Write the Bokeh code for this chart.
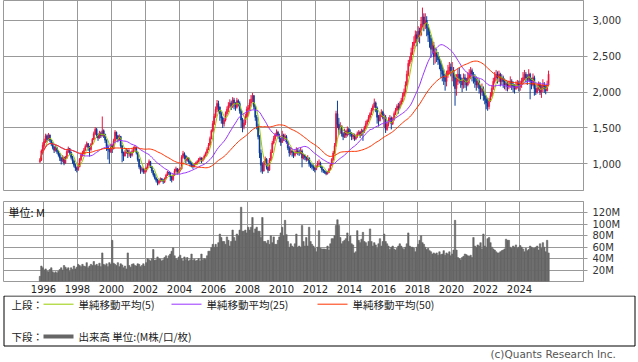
import numpy as np
import pandas as pd
from bokeh.plotting import figure
from bokeh.layouts import column
from bokeh.models import (ColumnDataSource, FixedTicker, Range1d, NumeralTickFormatter, Label)
from bokeh.core.properties import value
from bokeh.embed import file_html
from bokeh.resources import INLINE

# ---------------- data (monthly, Oct 1995 - Sep 2025) ----------------
first_year = 1995
first_month = 10
first_open = 1030

close = [
    1050, 1180, 1260,
    1310, 1390, 1340, 1400, 1330, 1280, 1230, 1190, 1220, 1170, 1130, 1080,
    1040, 1090, 1010, 1080, 1170, 1210, 1160, 1090, 1040, 980, 940, 920,
    960, 1060, 1120, 1140, 1190, 1240, 1280, 1230, 1200, 1270, 1340, 1420,
    1480, 1400, 1360, 1430, 1390, 1460, 1410, 1330, 1240, 1200, 1170, 1250,
    1210, 1320, 1440, 1390, 1340, 1380, 1250, 1150, 1110, 1160, 1190, 1140,
    1150, 1120, 1170, 1210, 1230, 1160, 1060, 960, 910, 930, 890, 900,
    940, 990, 1030, 960, 900, 850, 800, 770, 730, 760, 790, 770,
    750, 790, 840, 880, 870, 820, 780, 840, 900, 930, 880, 910,
    930, 1090, 1140, 1110, 1050, 1080, 1030, 1000, 980, 960, 990, 1010,
    1030, 1060, 1080, 1050, 1070, 1110, 1150, 1200, 1260, 1350, 1460, 1560,
    1660, 1760, 1840, 1790, 1700, 1640, 1560, 1610, 1700, 1760, 1810, 1850,
    1800, 1890, 1840, 1790, 1880, 1840, 1740, 1610, 1520, 1570, 1660, 1760,
    1780, 1850, 1900, 1950, 1800, 1650, 1520, 1380, 1150, 980, 900, 1000,
    1060, 950, 910, 1050, 1160, 1290, 1350, 1400, 1440, 1400, 1350, 1300,
    1400, 1350, 1380, 1300, 1220, 1150, 1180, 1160, 1120, 1150, 1180, 1160,
    1150, 1180, 1080, 1120, 1090, 1060, 1080, 1000, 980, 960, 940, 920,
    960, 1000, 1010, 960, 920, 900, 880, 860, 880, 920, 980, 1060,
    1150, 1250, 1700, 1550, 1480, 1520, 1420, 1380, 1450, 1400, 1480, 1440,
    1420, 1380, 1400, 1350, 1380, 1420, 1440, 1400, 1460, 1450, 1500, 1560,
    1600, 1650, 1700, 1750, 1800, 1850, 1780, 1650, 1600, 1680, 1720, 1650,
    1650, 1480, 1550, 1600, 1640, 1560, 1620, 1700, 1750, 1800, 1780, 1830,
    1880, 1950, 2000, 2100, 2250, 2400, 2450, 2550, 2650, 2700, 2800, 2750,
    2850, 2800, 2950, 3050, 2950, 3000, 2900, 2800, 2750, 2600, 2650, 2500,
    2550, 2500, 2450, 2400, 2300, 2250, 2200, 2150, 2250, 2300, 2350, 2300,
    2300, 2200, 2050, 2150, 2250, 2200, 2150, 2100, 2200, 2150, 2100, 2200,
    2250, 2300, 2250, 2200, 2150, 2100, 2150, 2050, 2000, 2050, 1950, 1900,
    1850, 1800, 1880, 1950, 2050, 2150, 2200, 2250, 2200, 2250, 2150, 2200,
    2150, 2100, 2120, 2080, 2100, 2150, 2100, 2080, 2050, 2100, 2120, 2080,
    2100, 2150, 2200, 2250, 2200, 2180, 2250, 2150, 2100, 2200, 2050, 2000,
    2050, 2100, 2000, 2050, 2100, 2050, 2020, 2100, 2250,
]

high = [
    1080, 1200, 1300,
    1350, 1420, 1410, 1430, 1410, 1340, 1300, 1250, 1260, 1240, 1190, 1150,
    1100, 1120, 1100, 1110, 1190, 1240, 1220, 1170, 1110, 1060, 1000, 960,
    1000, 1080, 1150, 1180, 1220, 1270, 1310, 1290, 1250, 1290, 1360, 1450,
    1510, 1500, 1420, 1460, 1450, 1660, 1480, 1420, 1340, 1270, 1220, 1280,
    1270, 1350, 1470, 1450, 1400, 1410, 1390, 1260, 1170, 1190, 1220, 1200,
    1200, 1170, 1200, 1240, 1260, 1240, 1170, 1070, 980, 960, 940, 930,
    960, 1010, 1060, 1040, 970, 910, 870, 820, 790, 780, 810, 800,
    790, 810, 860, 900, 890, 880, 830, 860, 930, 960, 940, 930,
    950, 1120, 1180, 1160, 1120, 1100, 1090, 1040, 1020, 1000, 1010, 1030,
    1050, 1080, 1100, 1090, 1090, 1130, 1170, 1230, 1290, 1380, 1480, 1600,
    1700, 1800, 1890, 1880, 1800, 1730, 1660, 1640, 1730, 1800, 1860, 1900,
    1880, 1930, 1920, 1860, 1920, 1900, 1870, 1760, 1640, 1620, 1700, 1800,
    1820, 1900, 1960, 1990, 1960, 1820, 1680, 1560, 1400, 1200, 1020, 1040,
    1100, 1080, 990, 1080, 1200, 1320, 1390, 1430, 1480, 1460, 1420, 1360,
    1460, 1420, 1420, 1400, 1320, 1240, 1230, 1200, 1180, 1190, 1230, 1220,
    1200, 1230, 1200, 1140, 1130, 1100, 1120, 1090, 1020, 1000, 990, 960,
    980, 1040, 1060, 1030, 970, 930, 910, 900, 900, 940, 1000, 1080,
    1180, 1290, 1740, 1880, 1640, 1580, 1540, 1440, 1490, 1470, 1520, 1500,
    1480, 1440, 1430, 1420, 1410, 1450, 1470, 1460, 1490, 1480, 1530, 1600,
    1620, 1680, 1720, 1780, 1830, 1910, 1870, 1800, 1680, 1710, 1760, 1740,
    1700, 1680, 1580, 1650, 1680, 1660, 1650, 1730, 1780, 1830, 1850, 1870,
    1920, 1990, 2050, 2150, 2300, 2450, 2500, 2620, 2700, 2780, 2860, 2850,
    2920, 2900, 3050, 3180, 3100, 3100, 3060, 2950, 2880, 2800, 2720, 2700,
    2620, 2600, 2560, 2500, 2440, 2380, 2320, 2260, 2300, 2380, 2420, 2400,
    2420, 2350, 2250, 2250, 2330, 2340, 2250, 2200, 2260, 2250, 2200, 2280,
    2320, 2350, 2330, 2280, 2250, 2220, 2200, 2180, 2100, 2120, 2080, 2000,
    1950, 1920, 1920, 2000, 2100, 2200, 2280, 2310, 2290, 2300, 2270, 2250,
    2230, 2190, 2170, 2150, 2160, 2220, 2180, 2150, 2110, 2150, 2170, 2160,
    2160, 2200, 2280, 2310, 2280, 2250, 2320, 2270, 2200, 2260, 2230, 2100,
    2110, 2150, 2140, 2100, 2180, 2140, 2100, 2160, 2300,
]

low = [
    1010, 1040, 1150,
    1230, 1290, 1300, 1320, 1300, 1250, 1200, 1150, 1170, 1140, 1100, 1040,
    990, 1020, 980, 1000, 1070, 1150, 1120, 1060, 1000, 950, 900, 880,
    900, 950, 1040, 1100, 1130, 1180, 1230, 1180, 1100, 1180, 1260, 1330,
    1400, 1360, 1320, 1350, 1360, 1380, 1360, 1290, 1180, 1060, 1000, 1150,
    1150, 1200, 1300, 1340, 1300, 1320, 1220, 1020, 1040, 1100, 1140, 1080,
    1100, 1080, 1100, 1150, 1180, 1130, 1030, 930, 860, 880, 860, 860,
    880, 920, 970, 940, 870, 820, 780, 740, 700, 710, 740, 750,
    720, 730, 780, 830, 840, 760, 740, 760, 830, 880, 850, 860,
    890, 920, 1070, 1060, 1010, 1030, 1000, 960, 950, 930, 950, 980,
    990, 1020, 1040, 1010, 1030, 1060, 1100, 1140, 1190, 1250, 1340, 1440,
    1540, 1640, 1720, 1720, 1600, 1560, 1500, 1520, 1590, 1670, 1720, 1780,
    1750, 1780, 1760, 1740, 1770, 1800, 1700, 1500, 1440, 1480, 1540, 1640,
    1680, 1740, 1800, 1860, 1760, 1600, 1480, 1340, 1080, 880, 860, 890,
    980, 920, 870, 900, 1040, 1150, 1270, 1320, 1380, 1370, 1300, 1250,
    1290, 1320, 1330, 1280, 1190, 1100, 1120, 1100, 1080, 1100, 1140, 1120,
    1110, 1130, 950, 1060, 1050, 1030, 1040, 960, 940, 920, 900, 880,
    910, 950, 980, 940, 880, 870, 860, 840, 850, 870, 910, 970,
    1040, 1130, 1240, 1500, 1400, 1420, 1380, 1330, 1360, 1360, 1380, 1400,
    1380, 1330, 1340, 1320, 1330, 1360, 1400, 1360, 1390, 1320, 1430, 1480,
    1530, 1580, 1620, 1680, 1730, 1780, 1720, 1560, 1520, 1590, 1650, 1620,
    1500, 1430, 1460, 1520, 1580, 1480, 1540, 1600, 1680, 1730, 1700, 1760,
    1820, 1860, 1930, 1980, 2080, 2220, 2360, 2420, 2520, 2600, 2680, 2640,
    2700, 2680, 2780, 2900, 2850, 2880, 2780, 2700, 2620, 2480, 2540, 2380,
    2400, 2420, 2380, 2320, 2200, 2150, 2100, 2020, 2080, 2200, 2250, 2220,
    2150, 2080, 1810, 1950, 2100, 2120, 2060, 2000, 2050, 2060, 2020, 2080,
    2120, 2180, 2150, 2120, 2060, 2020, 2060, 1980, 1900, 1950, 1880, 1830,
    1760, 1740, 1760, 1860, 1930, 2030, 2120, 2160, 2120, 2140, 2080, 2100,
    2060, 2040, 2020, 2010, 2040, 2060, 2030, 2000, 1980, 2030, 2050, 2010,
    2020, 2060, 2120, 2170, 2140, 2100, 2150, 1900, 2040, 2080, 1950, 1960,
    1980, 2020, 1960, 1920, 2000, 1990, 1970, 2010, 2080,
]

volume = [
    9, 27, 24,
    20, 22, 18, 17, 21, 24, 17, 15, 17, 15, 18, 21,
    24, 20, 28, 25, 22, 24, 18, 24, 21, 27, 22, 25,
    30, 28, 26, 30, 27, 26, 33, 24, 27, 30, 28, 35,
    28, 30, 27, 32, 26, 50, 30, 28, 31, 26, 33, 30,
    72, 32, 30, 28, 33, 26, 31, 29, 24, 27, 22, 50,
    28, 25, 30, 31, 28, 27, 31, 30, 26, 28, 31, 27,
    33, 40, 38, 36, 40, 56, 37, 38, 43, 40, 39, 36,
    38, 42, 45, 40, 45, 48, 53, 59, 45, 40, 38, 43,
    46, 40, 36, 43, 38, 42, 36, 38, 48, 37, 39, 36,
    37, 40, 36, 48, 38, 40, 39, 45, 53, 53, 59, 65,
    60, 65, 60, 68, 83, 77, 70, 70, 65, 78, 72, 62,
    70, 90, 77, 71, 83, 80, 90, 130, 88, 88, 90, 85,
    95, 90, 95, 112, 85, 92, 95, 88, 88, 77, 112, 70,
    70, 67, 72, 65, 80, 68, 78, 65, 65, 72, 78, 85,
    95, 80, 107, 82, 70, 60, 66, 62, 60, 66, 83, 60,
    62, 60, 98, 70, 62, 77, 62, 95, 70, 65, 62, 58,
    52, 60, 89, 58, 57, 57, 57, 56, 62, 55, 66, 75,
    75, 80, 98, 108, 98, 77, 66, 70, 72, 75, 85, 70,
    80, 66, 64, 50, 52, 89, 72, 68, 74, 86, 70, 68,
    62, 70, 92, 70, 62, 68, 64, 58, 66, 75, 62, 70,
    83, 70, 66, 62, 56, 60, 62, 57, 55, 58, 62, 66,
    62, 58, 56, 60, 66, 85, 62, 60, 60, 58, 52, 60,
    65, 72, 80, 68, 65, 60, 56, 58, 54, 52, 48, 50,
    48, 50, 46, 52, 47, 48, 54, 46, 50, 48, 52, 45,
    48, 55, 107, 55, 42, 40, 38, 42, 44, 48, 47, 45,
    44, 46, 42, 77, 62, 60, 64, 62, 68, 57, 83, 62,
    60, 75, 77, 68, 60, 57, 55, 52, 50, 50, 52, 54,
    55, 57, 74, 72, 72, 60, 58, 62, 60, 64, 58, 60,
    63, 60, 57, 52, 58, 54, 56, 62, 60, 58, 58, 60,
    62, 55, 66, 58, 68, 60, 52, 72, 50,
]

ma_windows = [5, 25, 50]
ma_labels = ["単純移動平均(5)", "単純移動平均(25)", "単純移動平均(50)"]
ma_colors = ["#99cc00", "#9933ff", "#ff3300"]

x_tick_years = [1996, 1998, 2000, 2002, 2004, 2006, 2008, 2010, 2012, 2014, 2016, 2018, 2020, 2022, 2024]
price_ticks = [1000, 1500, 2000, 2500, 3000]
volume_ticks = [20, 40, 60, 80, 100, 120]

# ---------------- derived ----------------
n = min(len(close), len(high), len(low), len(volume))
c = np.array(close[:n], dtype=float)
o = np.concatenate([[first_open], c[:-1]])
h = np.maximum(np.array(high[:n], dtype=float), np.maximum(o, c))
l = np.minimum(np.array(low[:n], dtype=float), np.minimum(o, c))
v = np.array(volume[:n], dtype=float)
x = first_year + (first_month - 1 + np.arange(n) + 0.5) / 12.0

UP = "#f0143c"
DOWN = "#0a3a9a"
colors = [UP if cc >= oo else DOWN for cc, oo in zip(c, o)]

src = ColumnDataSource(dict(x=x, o=o, c=c, h=h, l=l,
                            top=np.maximum(o, c), bottom=np.minimum(o, c),
                            color=colors, v=v))

X0, X1 = 1993.647, 2027.765
GRID = "#999999"
LABEL_FONT = "DejaVu Sans"
JP_FONT = "Noto Sans CJK JP"
W = 638
B_LEFT, B_RIGHT = 3, 55

# ---------------- price panel ----------------
p = figure(width=W, height=191, x_range=Range1d(X0, X1), y_range=Range1d(627, 3279),
           x_axis_location=None, y_axis_location="right",
           output_backend="svg", toolbar_location=None,
           min_border_left=B_LEFT, min_border_right=B_RIGHT, min_border_top=0, min_border_bottom=1)
p.outline_line_color = GRID
p.background_fill_color = "white"
p.xgrid.ticker = FixedTicker(ticks=x_tick_years)
for g in (p.xgrid, p.ygrid):
    g.grid_line_color = GRID
    g.grid_line_alpha = 1.0
ax = p.yaxis[0]
ax.ticker = FixedTicker(ticks=price_ticks)
ax.formatter = NumeralTickFormatter(format="0,0")
ax.major_tick_out = 4
ax.major_tick_in = 0
ax.minor_tick_line_color = None
ax.axis_line_color = GRID
ax.major_tick_line_color = GRID
ax.major_label_standoff = 5
ax.major_label_text_font = LABEL_FONT
ax.major_label_text_font_size = "10px"
ax.major_label_text_color = "#333333"

p.segment(x0="x", y0="l", x1="x", y1="h", line_color="color", line_width=1, source=src)
p.vbar(x="x", width=0.8 / 12, top="top", bottom="bottom", fill_color="color",
       line_color="color", line_width=0.5, source=src)

cs = pd.Series(c)
for w_, col in zip(ma_windows, ma_colors):
    ma = cs.rolling(w_, min_periods=1).mean().values
    p.line(x, ma, line_color=col, line_width=1)

# ---------------- volume panel ----------------
pv = figure(width=W, height=104, x_range=p.x_range, y_range=Range1d(0, 140),
            x_axis_location="below", y_axis_location="right",
            output_backend="svg", toolbar_location=None,
            min_border_left=B_LEFT, min_border_right=B_RIGHT, min_border_top=10, min_border_bottom=0)
pv.outline_line_color = GRID
for g in (pv.xgrid, pv.ygrid):
    g.grid_line_color = GRID
    g.grid_line_alpha = 1.0
xa = pv.xaxis[0]
xa.ticker = FixedTicker(ticks=x_tick_years)
xa.major_label_overrides = {yr: str(yr) for yr in x_tick_years}
xa.major_tick_out = 0
xa.major_tick_in = 0
xa.minor_tick_line_color = None
xa.axis_line_color = None
xa.major_label_standoff = 3
xa.major_label_text_font = LABEL_FONT
xa.major_label_text_font_size = "10px"
xa.major_label_text_color = "#222222"
ya = pv.yaxis[0]
ya.ticker = FixedTicker(ticks=volume_ticks)
ya.major_label_overrides = {t: f"{t}M" for t in volume_ticks}
ya.major_tick_out = 4
ya.major_tick_in = 0
ya.minor_tick_line_color = None
ya.axis_line_color = GRID
ya.major_tick_line_color = GRID
ya.major_label_standoff = 5
ya.major_label_text_font = LABEL_FONT
ya.major_label_text_font_size = "10px"
ya.major_label_text_color = "#333333"

pv.vbar(x="x", width=1.0 / 12, top="v", bottom=0, fill_color="#666666",
        line_color="#666666", line_width=0.6, source=src)
pv.add_layout(Label(x=X0, y=140, x_offset=5, y_offset=-2, text="単位: M",
                    text_baseline="top", text_font=JP_FONT, text_font_size="11px",
                    text_color="#111111"))

# ---------------- legend panel ----------------
LH = 67
pl = figure(width=W, height=LH, x_range=Range1d(0, W), y_range=Range1d(LH, 0),
            x_axis_location=None, y_axis_location=None,
            output_backend="svg", toolbar_location=None,
            min_border=0, min_border_left=0, min_border_right=0,
            min_border_top=0, min_border_bottom=0)
pl.outline_line_color = None
pl.xgrid.visible = False
pl.ygrid.visible = False
pl.quad(left=[3.5], right=[634.5], top=[0.5], bottom=[50.5], fill_color=None,
        line_color="black", line_width=1)

row1, row2 = 8.7, 41
pl.text(x=[11, 11], y=[row1, row2], text=["上段：", "下段："], text_baseline="middle",
        text_align="left", text_font=value(JP_FONT), text_font_size="10.5px",
        text_color="#222222")
seg_x0 = [43, 171, 317]
pl.segment(x0=seg_x0, y0=[row1] * 3, x1=[s + 30 for s in seg_x0], y1=[row1] * 3,
           line_color=ma_colors, line_width=1)
pl.text(x=[s + 35 for s in seg_x0], y=[row1] * 3, text=ma_labels, text_baseline="middle",
        text_align="left", text_font=value(JP_FONT), text_font_size="10.5px",
        text_color="#222222")
pl.segment(x0=[43], y0=[row2], x1=[73], y1=[row2], line_color="#666666", line_width=4)
pl.text(x=[78], y=[row2], text=["出来高 単位:(M株/口/枚)"], text_baseline="middle",
        text_align="left", text_font=value(JP_FONT), text_font_size="10.5px",
        text_color="#222222")
pl.text(x=[490], y=[58], text=["(c)Quants Research Inc."], text_baseline="middle",
        text_align="left", text_font=value(LABEL_FONT), text_font_size="10.5px",
        text_color="#555555")

# nest the two chart panels so the legend panel's frame is not aligned to theirs
charts = column(p, pv, spacing=0)
layout = column(charts, pl, spacing=0)
open("out.html", "w").write(file_html(layout, INLINE))
